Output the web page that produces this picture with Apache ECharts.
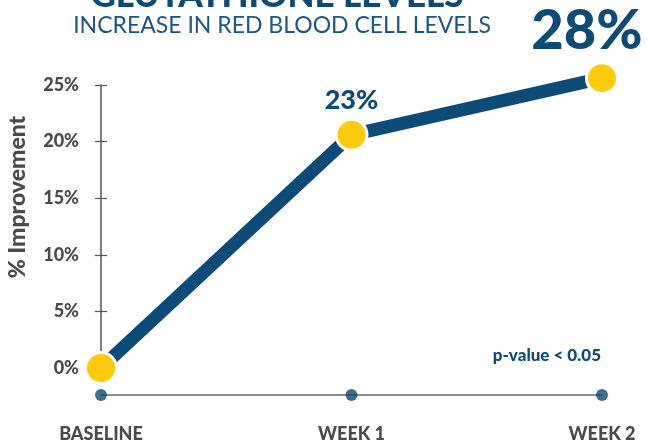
<!DOCTYPE html>
<html><head><meta charset="utf-8">
<script src="https://cdn.jsdelivr.net/npm/echarts@6/dist/echarts.min.js"></script>
<style>html,body{margin:0;padding:0;background:#fff}#c{width:647px;height:443px}</style>
</head><body><div id="c"></div>
<script>
const categories = ['BASELINE', 'WEEK 1', 'WEEK 2'];
const improvement = [0, 20.6, 25.6];
const pointLabels = ['', '23%', '28%'];
const yTicks = [0, 5, 10, 15, 20, 25];
const titleText = 'GLUTATHIONE LEVELS';
const subtitleText = 'INCREASE IN RED BLOOD CELL LEVELS';
const noteText = 'p-value < 0.05';
const yName = '% Improvement';

const navy = '#0c4a77';
const grey = '#4a4a4a';
const chart = echarts.init(document.getElementById('c'), null, {renderer: 'canvas'});
chart.setOption({
  animation: false,
  backgroundColor: '#fff',
  title: [
    {text: titleText, left: 272, textAlign: 'center', top: -27,
     textStyle: {fontFamily: 'Lato', fontWeight: 900, fontSize: 35, color: navy}},
    {text: subtitleText, left: 277, textAlign: 'center', top: 9,
     textStyle: {fontFamily: 'Lato', fontWeight: 'normal', fontSize: 23, color: '#1d5583'}}
  ],
  grid: [
    {left: 101, right: 45, top: 85, bottom: 75},
    {left: 101, right: 45, top: 388, height: 20}
  ],
  xAxis: [
    {gridIndex: 0, type: 'category', data: categories, boundaryGap: false, show: false},
    {gridIndex: 1, type: 'category', data: categories, boundaryGap: false,
     axisLine: {onZero: true, lineStyle: {color: '#666', width: 1.5}},
     axisTick: {show: false},
     axisLabel: {margin: 23, color: grey, fontFamily: 'Lato', fontWeight: 900, fontSize: 18}}
  ],
  yAxis: [
    {gridIndex: 0, type: 'value', min: yTicks[0], max: yTicks[yTicks.length - 1], interval: 5,
     splitLine: {show: false},
     axisLine: {show: true, lineStyle: {color: '#555', width: 1.5}},
     axisTick: {show: true, length: 6, lineStyle: {color: '#555', width: 1.2}},
     axisLabel: {margin: 22, color: grey, fontFamily: 'Lato', fontWeight: 900, fontSize: 18,
                 formatter: v => v + '%'}},
    {gridIndex: 0, type: 'value', min: yTicks[0], max: yTicks[yTicks.length - 1], interval: 5,
     position: 'left', splitLine: {show: false}, axisLine: {show: false},
     axisTick: {show: true, inside: true, length: 6, lineStyle: {color: '#555', width: 1.2}},
     axisLabel: {show: false}},
    {gridIndex: 1, type: 'value', min: -1, max: 1, show: false}
  ],
  series: [
    {type: 'line', xAxisIndex: 0, yAxisIndex: 0, data: improvement, clip: false,
     lineStyle: {color: navy, width: 13, cap: 'round'},
     symbol: 'circle', symbolSize: 31,
     itemStyle: {color: '#fdcb0b', borderColor: '#fff', borderWidth: 3},
     label: {show: true, position: 'top', distance: 6, color: navy, fontFamily: 'Lato', fontWeight: 900,
             fontSize: 27, formatter: p => pointLabels[p.dataIndex]},
     labelLayout: p => p.dataIndex === 2 ? {dx: -15, dy: 4, fontSize: 56} : {dy: 2},
     z: 3},
    {type: 'scatter', xAxisIndex: 1, yAxisIndex: 2, data: categories.map(() => 0),
     symbolSize: 12, itemStyle: {color: navy}, silent: true, z: 4}
  ],
  graphic: [
    {type: 'text', x: 18, y: 197, rotation: Math.PI / 2,
     style: {text: yName, fill: grey, font: '900 23px Lato', textAlign: 'center', textVerticalAlign: 'middle'}},
    {type: 'text', x: 601, y: 356,
     style: {text: noteText, fill: navy, font: '900 17px Lato', textAlign: 'right', textVerticalAlign: 'middle'}}
  ]
});
</script></body></html>
